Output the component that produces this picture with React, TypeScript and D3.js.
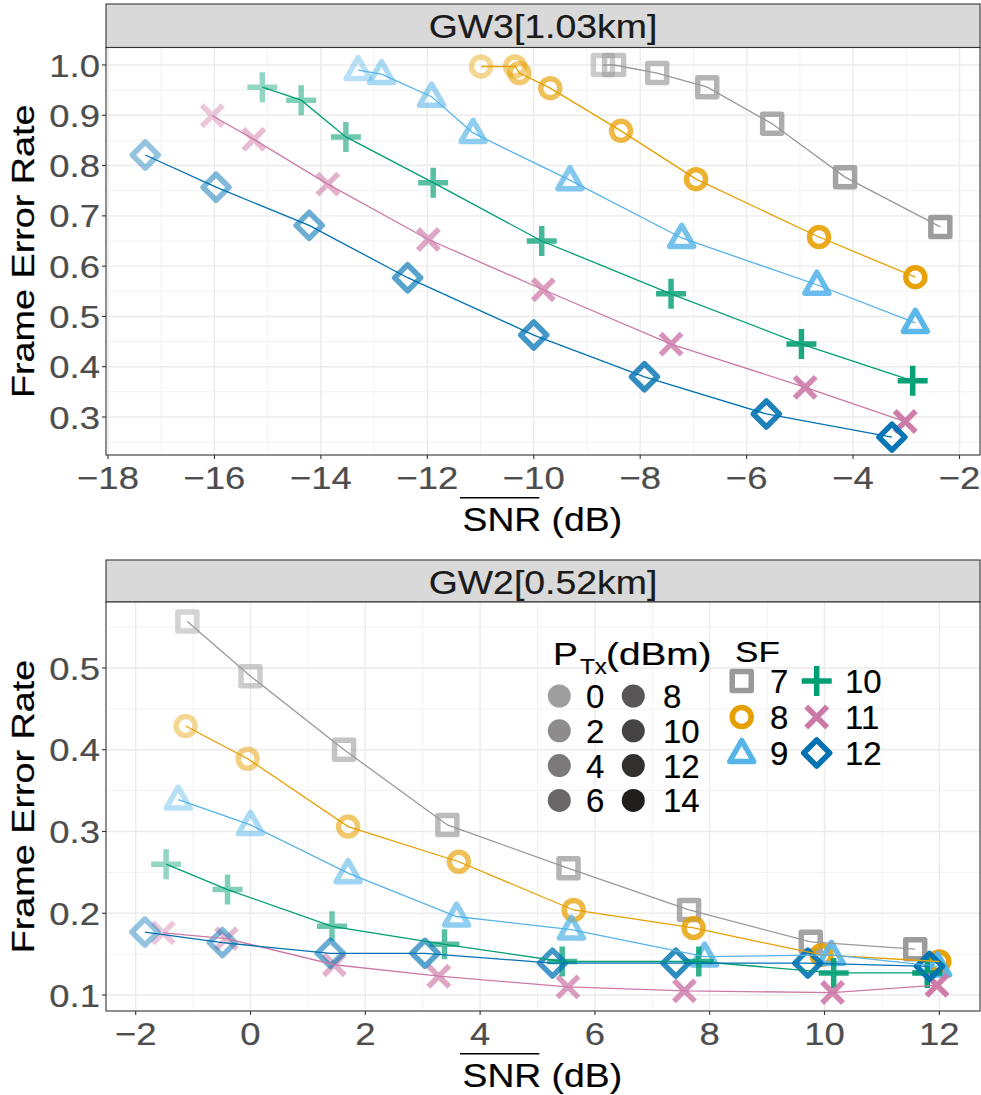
import React from "react";
import * as d3 from "d3";

// ---------- data ----------
const PTX_LEVELS = [0, 2, 4, 6, 8, 10, 12, 14];
const SF_LEVELS = [7, 8, 9, 10, 11, 12];
const SF_COLORS = ["#999999", "#E69F00", "#56B4E9", "#009E73", "#CC79A7", "#0072B2"];

// GW3 [1.03km]
const GW3_SF7_SNR = [-8.70, -8.49, -7.68, -6.74, -5.52, -4.15, -2.36];
const GW3_SF7_FER = [1.0, 1.0, 0.984, 0.956, 0.883, 0.777, 0.678];
const GW3_SF7_PTX = [2, 4, 6, 8, 10, 12, 14];
const GW3_SF8_SNR = [-10.99, -10.35, -10.27, -9.69, -8.36, -6.95, -4.64, -2.83];
const GW3_SF8_FER = [0.997, 0.997, 0.984, 0.954, 0.869, 0.773, 0.658, 0.578];
const GW3_SF9_SNR = [-13.30, -12.86, -11.92, -11.14, -9.32, -7.22, -4.68, -2.83];
const GW3_SF9_FER = [0.990, 0.982, 0.937, 0.865, 0.771, 0.656, 0.563, 0.487];
const GW3_SF10_SNR = [-15.10, -14.37, -13.53, -11.89, -9.85, -7.42, -4.97, -2.88];
const GW3_SF10_FER = [0.956, 0.930, 0.857, 0.766, 0.650, 0.545, 0.445, 0.372];
const GW3_SF11_SNR = [-16.04, -15.26, -13.87, -11.98, -9.82, -7.42, -4.90, -3.02];
const GW3_SF11_FER = [0.899, 0.852, 0.763, 0.653, 0.553, 0.445, 0.359, 0.291];
const GW3_SF12_SNR = [-17.30, -15.97, -14.22, -12.37, -10.0, -7.92, -5.63, -3.27];
const GW3_SF12_FER = [0.821, 0.757, 0.681, 0.577, 0.463, 0.380, 0.306, 0.260];

// GW2 [0.52km]
const GW2_SF7_SNR = [-1.10, 0.0, 1.63, 3.43, 5.54, 7.64, 9.76, 11.58];
const GW2_SF7_FER = [0.557, 0.490, 0.400, 0.308, 0.255, 0.204, 0.165, 0.156];
const GW2_SF8_SNR = [-1.13, -0.05, 1.70, 3.63, 5.63, 7.72, 9.95, 12.0];
const GW2_SF8_FER = [0.429, 0.389, 0.306, 0.263, 0.204, 0.182, 0.149, 0.141];
const GW2_SF9_SNR = [-1.26, 0.0, 1.70, 3.59, 5.59, 7.91, 10.12, 11.97];
const GW2_SF9_FER = [0.339, 0.308, 0.249, 0.196, 0.180, 0.147, 0.149, 0.135];
const GW2_SF10_SNR = [-1.47, -0.40, 1.42, 3.38, 5.43, 7.81, 10.16, 11.79];
const GW2_SF10_FER = [0.260, 0.229, 0.184, 0.162, 0.141, 0.141, 0.127, 0.127];
const GW2_SF11_SNR = [-1.52, -0.42, 1.46, 3.28, 5.53, 7.56, 10.14, 11.96];
const GW2_SF11_FER = [0.176, 0.169, 0.137, 0.123, 0.110, 0.105, 0.103, 0.112];
const GW2_SF12_SNR = [-1.84, -0.49, 1.39, 3.04, 5.26, 7.41, 9.71, 11.83];
const GW2_SF12_FER = [0.177, 0.164, 0.151, 0.151, 0.139, 0.139, 0.139, 0.135];

const GW3_X_TICKS = [-18, -16, -14, -12, -10, -8, -6, -4, -2];
const GW3_Y_TICKS = [0.3, 0.4, 0.5, 0.6, 0.7, 0.8, 0.9, 1.0];
const GW2_X_TICKS = [-2, 0, 2, 4, 6, 8, 10, 12];
const GW2_Y_TICKS = [0.1, 0.2, 0.3, 0.4, 0.5];

type Series = { sf: number; snr: number[]; fer: number[]; ptx: number[] };

const GW3_SERIES: Series[] = [
  { sf: 7, snr: GW3_SF7_SNR, fer: GW3_SF7_FER, ptx: GW3_SF7_PTX },
  { sf: 8, snr: GW3_SF8_SNR, fer: GW3_SF8_FER, ptx: PTX_LEVELS },
  { sf: 9, snr: GW3_SF9_SNR, fer: GW3_SF9_FER, ptx: PTX_LEVELS },
  { sf: 10, snr: GW3_SF10_SNR, fer: GW3_SF10_FER, ptx: PTX_LEVELS },
  { sf: 11, snr: GW3_SF11_SNR, fer: GW3_SF11_FER, ptx: PTX_LEVELS },
  { sf: 12, snr: GW3_SF12_SNR, fer: GW3_SF12_FER, ptx: PTX_LEVELS },
];
const GW2_SERIES: Series[] = [
  { sf: 7, snr: GW2_SF7_SNR, fer: GW2_SF7_FER, ptx: PTX_LEVELS },
  { sf: 8, snr: GW2_SF8_SNR, fer: GW2_SF8_FER, ptx: PTX_LEVELS },
  { sf: 9, snr: GW2_SF9_SNR, fer: GW2_SF9_FER, ptx: PTX_LEVELS },
  { sf: 10, snr: GW2_SF10_SNR, fer: GW2_SF10_FER, ptx: PTX_LEVELS },
  { sf: 11, snr: GW2_SF11_SNR, fer: GW2_SF11_FER, ptx: PTX_LEVELS },
  { sf: 12, snr: GW2_SF12_SNR, fer: GW2_SF12_FER, ptx: PTX_LEVELS },
];

// ---------- helpers ----------
const FONT = "'Liberation Sans', Arial, Helvetica, sans-serif";
const alphaScale = d3.scaleLinear().domain([0, 14]).range([0.42, 0.97]);
const colorOf = (sf: number) => SF_COLORS[SF_LEVELS.indexOf(sf)];
const fmtX = d3.format("d");
const fmtY = d3.format(".1f");

function T(props: any) {
  const { x, y, size, sx = 1, anchor = "middle", rot = 0, fill = "#000", children } = props;
  return (
    <text
      transform={`translate(${x},${y}) rotate(${rot}) scale(${sx},1)`}
      fontSize={size}
      textAnchor={anchor}
      fontFamily={FONT}
      fill={fill}
      stroke={fill}
      strokeWidth={0.2}
    >
      {children}
    </text>
  );
}

function Marker({ sf, x, y, color, opacity }: any) {
  const common = {
    fill: "none",
    stroke: color,
    strokeOpacity: opacity,
    strokeWidth: 5.5,
    transform: `translate(${x},${y})`,
  };
  switch (sf) {
    case 7:
      return <path d="M-9.5,-9.5H9.5V9.5H-9.5Z" strokeLinejoin="round" {...common} />;
    case 8:
      return <circle r={9.5} {...common} />;
    case 9:
      return <path d="M0,-12.5L12,8.5L-12,8.5Z" strokeLinejoin="round" {...common} />;
    case 10:
      return <path d="M-15,0H15M0,-15V15" strokeLinecap="butt" {...common} />;
    case 11:
      return <path d="M-10.5,-10.5L10.5,10.5M-10.5,10.5L10.5,-10.5" strokeLinecap="butt" {...common} />;
    default:
      return <path d="M0,-13L13,0L0,13L-13,0Z" strokeLinejoin="round" {...common} />;
  }
}

function Panel(props: any) {
  const { id, title, series, xDomain, xRange, yDomain, yRange, xTicks, yTicks, stripTop, top, bottom, children } = props;
  const L = 106, R = 980;
  const x = d3.scaleLinear().domain(xDomain).range(xRange);
  const y = d3.scaleLinear().domain(yDomain).range(yRange);
  const step = xTicks[1] - xTicks[0];
  const ystep = yTicks[1] - yTicks[0];
  const x0 = x.invert(L), x1 = x.invert(R);
  const yLo = y.invert(bottom), yHi = y.invert(top);
  const xMinor = d3.range(Math.floor(x0 / step) * step - step / 2, x1 + step, step).filter((v) => v > x0 && v < x1);
  const yMinor = d3.range(yTicks[0] - ystep * 2.5, yHi + ystep, ystep).filter((v) => v > yLo && v < yHi);
  const line = d3.line<[number, number]>().x((d) => x(d[0])).y((d) => y(d[1]));
  const midY = (top + bottom) / 2;
  return (
    <g>
      <defs>
        <clipPath id={id}>
          <rect x={L} y={top} width={R - L} height={bottom - top} />
        </clipPath>
      </defs>
      {/* strip */}
      <rect x={L} y={stripTop} width={R - L} height={top - stripTop} fill="#D9D9D9" stroke="#333333" strokeWidth={1.1} />
      <T x={(L + R) / 2} y={stripTop + 33.7} size={34} sx={1.1} fill="#1A1A1A">{title}</T>
      {/* panel background + grid */}
      <rect x={L} y={top} width={R - L} height={bottom - top} fill="#FFFFFF" />
      {xMinor.map((v: number, i: number) => (
        <line key={"xm" + i} x1={x(v)} x2={x(v)} y1={top} y2={bottom} stroke="#F2F2F2" strokeWidth={1} />
      ))}
      {yMinor.map((v: number, i: number) => (
        <line key={"ym" + i} x1={L} x2={R} y1={y(v)} y2={y(v)} stroke="#F2F2F2" strokeWidth={1} />
      ))}
      {xTicks.map((v: number, i: number) => (
        <line key={"xM" + i} x1={x(v)} x2={x(v)} y1={top} y2={bottom} stroke="#EBEBEB" strokeWidth={1.4} />
      ))}
      {yTicks.map((v: number, i: number) => (
        <line key={"yM" + i} x1={L} x2={R} y1={y(v)} y2={y(v)} stroke="#EBEBEB" strokeWidth={1.4} />
      ))}
      {children}
      <g clipPath={`url(#${id})`}>
        {series.map((s: Series) =>
          s.snr.map((v, i) => (
            <Marker
              key={`${s.sf}-${i}`}
              sf={s.sf}
              x={x(v)}
              y={y(s.fer[i])}
              color={colorOf(s.sf)}
              opacity={alphaScale(s.ptx[i])}
            />
          ))
        )}
        {series.map((s: Series) => (
          <path
            key={"l" + s.sf}
            d={line(s.snr.map((v, i) => [v, s.fer[i]] as [number, number])) || ""}
            fill="none"
            stroke={colorOf(s.sf)}
            strokeWidth={1.3}
          />
        ))}
      </g>
      <rect x={L} y={top} width={R - L} height={bottom - top} fill="none" stroke="#333333" strokeWidth={1.1} />
      {/* axes */}
      {yTicks.map((v: number, i: number) => (
        <g key={"yt" + i}>
          <line x1={L - 4} x2={L} y1={y(v)} y2={y(v)} stroke="#333333" strokeWidth={1.1} />
          <T x={100} y={y(v) + 11.5} size={32} sx={1.14} anchor="end" fill="#4D4D4D">{fmtY(v)}</T>
        </g>
      ))}
      {xTicks.map((v: number, i: number) => (
        <g key={"xt" + i}>
          <line x1={x(v)} x2={x(v)} y1={bottom} y2={bottom + 4} stroke="#333333" strokeWidth={1.1} />
          <T x={x(v)} y={bottom + 33.5} size={32} sx={1.14} fill="#4D4D4D">{fmtX(v).replace("-", "\u2212")}</T>
        </g>
      ))}
      <T x={34} y={midY} size={32} sx={1.18} rot={-90}>Frame Error Rate</T>
      <line x1={460} x2={539.3} y1={bottom + 42.7} y2={bottom + 42.7} stroke="#000" strokeWidth={1.5} />
      <T x={542.3} y={bottom + 76} size={33} sx={1.13}>SNR (dB)</T>
    </g>
  );
}

function Legend() {
  const dotCols = [559.3, 633.3];
  const dotLabelCols = [586, 663];
  const dotRow0 = 696, dotStep = 34.8;
  const sfCols = [741.7, 816.7];
  const sfLabelCols = [770, 845];
  const sfRow0 = 681, sfStep = 36;
  return (
    <g>
      <T x={553} y={665} size={31} sx={1.2} anchor="start">P</T>
      <T x={580} y={674} size={22} sx={1.1} anchor="start">Tx</T>
      <T x={606} y={665} size={31} sx={1.25} anchor="start">(dBm)</T>
      {PTX_LEVELS.map((p, i) => {
        const col = Math.floor(i / 4), row = i % 4;
        const cy = dotRow0 + row * dotStep;
        return (
          <g key={"p" + p}>
            <circle cx={dotCols[col]} cy={cy} r={11.5} fill="#1A1717" fillOpacity={alphaScale(p)} />
            <T x={dotLabelCols[col]} y={cy + 12} size={33} sx={1.0} anchor="start">{String(p)}</T>
          </g>
        );
      })}
      <T x={735} y={662} size={30} sx={1.17} anchor="start">SF</T>
      {SF_LEVELS.map((sf, i) => {
        const col = Math.floor(i / 3), row = i % 3;
        const cy = sfRow0 + row * sfStep;
        return (
          <g key={"s" + sf}>
            <Marker sf={sf} x={sfCols[col]} y={cy} color={colorOf(sf)} opacity={1} />
            <T x={sfLabelCols[col]} y={cy + 12} size={33} sx={1.0} anchor="start">{String(sf)}</T>
          </g>
        );
      })}
    </g>
  );
}

export default function App() {
  return (
    <svg
      width={981}
      height={1095}
      style={{ position: "absolute", left: 0, top: 0, background: "#FFFFFF" }}
    >
      <rect x={0} y={0} width={981} height={1095} fill="#FFFFFF" />
      <Panel
        id="clipTop"
        title="GW3[1.03km]"
        series={GW3_SERIES}
        xDomain={[-18, -2]}
        xRange={[108, 959.5]}
        yDomain={[0.3, 1.0]}
        yRange={[417, 65]}
        xTicks={GW3_X_TICKS}
        yTicks={GW3_Y_TICKS}
        stripTop={4}
        top={47.5}
        bottom={455}
      />
      <Panel
        id="clipBottom"
        title="GW2[0.52km]"
        series={GW2_SERIES}
        xDomain={[-2, 12]}
        xRange={[135.7, 939.3]}
        yDomain={[0.1, 0.5]}
        yRange={[995, 668]}
        xTicks={GW2_X_TICKS}
        yTicks={GW2_Y_TICKS}
        stripTop={560}
        top={602}
        bottom={1011}
      >
        <Legend />
      </Panel>
    </svg>
  );
}
